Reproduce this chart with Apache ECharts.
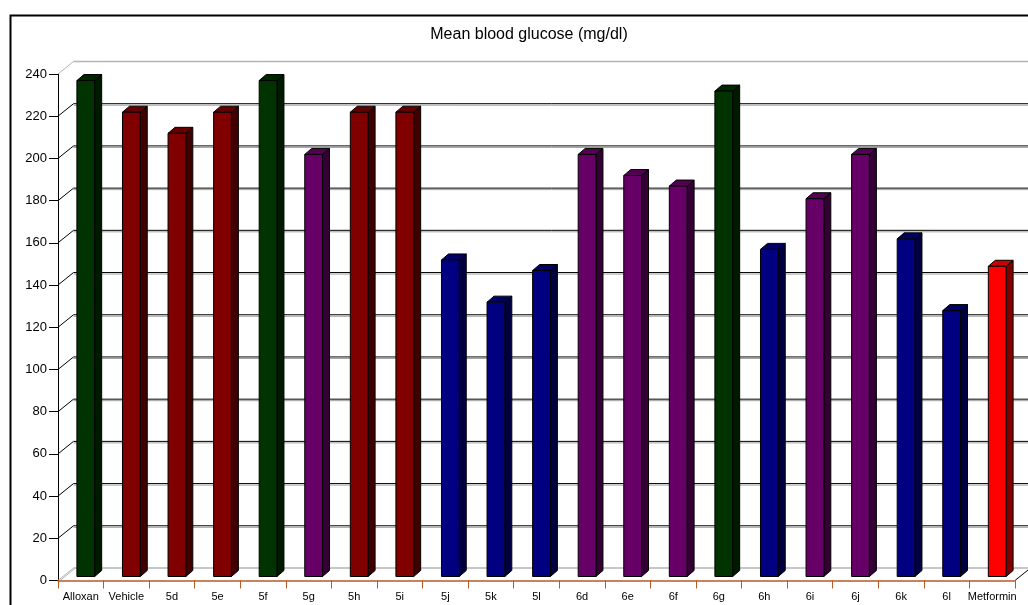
<!DOCTYPE html>
<html>
<head>
<meta charset="utf-8">
<script src="https://cdn.jsdelivr.net/npm/echarts@6/dist/echarts.min.js"></script>
<style>
  html, body { margin: 0; padding: 0; background: #fff; }
  #chart { width: 1028px; height: 605px; }
</style>
</head>
<body>
<div id="chart"></div>
<script>
var categories = ['Alloxan', 'Vehicle', '5d', '5e', '5f', '5g', '5h', '5i', '5j', '5k', '5l',
                  '6d', '6e', '6f', '6g', '6h', '6i', '6j', '6k', '6l', 'Metformin'];
var glucose = [235, 220, 210, 220, 235, 200, 220, 220, 150, 130, 145,
               200, 190, 185, 230, 155, 179, 200, 160, 126, 147];
var groups = ['green', 'red', 'red', 'red', 'green', 'purple', 'red', 'red', 'navy', 'navy', 'navy',
              'purple', 'purple', 'purple', 'green', 'navy', 'purple', 'purple', 'navy', 'navy', 'bright'];
var yTicks = [0, 20, 40, 60, 80, 100, 120, 140, 160, 180, 200, 220, 240];

// front / top / side shades
var palette = {
  green:  ['#003300', '#002600', '#001a00'],
  red:    ['#800000', '#660000', '#400000'],
  purple: ['#660066', '#520052', '#330033'],
  navy:   ['#000080', '#000066', '#000040'],
  bright: ['#ff0000', '#cc0000', '#800000']
};

var DX = 15.5, DY = -12.5;   // depth of the back wall
var FX = 5, FY = -4;         // bar front face offset
var BX = 7, BY = -6;         // bar depth

var chart = echarts.init(document.getElementById('chart'));

function wallItem(params, api) {
  var cs = params.coordSys;
  var v = api.value(1);
  var y = api.coord([0, v])[1];
  var x = cs.x, xr = cs.x + cs.width;
  var edge = (v === 0 || v === 240);
  var col = edge ? '#b4b4b4' : '#000';
  var kids = [
    { type: 'line', shape: { x1: x, y1: y, x2: x + DX, y2: y + DY }, style: { stroke: col, lineWidth: 1 } },
    { type: 'line', shape: { x1: x + DX, y1: y + DY, x2: xr + DX + 20, y2: y + DY }, style: { stroke: col, lineWidth: edge ? 1.5 : 1 } }
  ];
  if (!edge) {
    kids.push({ type: 'line', shape: { x1: x + DX, y1: y + DY + 1.5, x2: xr + DX + 20, y2: y + DY + 1.5 }, style: { stroke: '#a0a0a0', lineWidth: 1 } });
  }
  if (v === 0) {
    kids.push({ type: 'line', shape: { x1: x + 2, y1: y, x2: x + DX + 2, y2: y + DY }, style: { stroke: col, lineWidth: 1 } });
    kids.push({ type: 'line', shape: { x1: xr, y1: y, x2: xr + DX, y2: y + DY }, style: { stroke: '#000', lineWidth: 1 } });
  }
  return { type: 'group', children: kids };
}

function barItem(params, api) {
  var i = api.value(0);
  var c = palette[groups[params.dataIndex]];
  var base = api.coord([i, 0]);
  var top = api.coord([i, api.value(1)]);
  var w = api.size([1, 0])[0] * 0.39;
  var x0 = base[0] + FX - w / 2, x1 = x0 + w;
  var yb = base[1] + FY, yt = top[1] + FY;
  var st = { stroke: '#000', lineWidth: 1 };
  return {
    type: 'group',
    children: [
      { type: 'polygon', shape: { points: [[x1, yt], [x1 + BX, yt + BY], [x1 + BX, yb + BY], [x1, yb]] },
        style: Object.assign({ fill: c[2] }, st) },
      { type: 'polygon', shape: { points: [[x0, yt], [x0 + BX, yt + BY], [x1 + BX, yt + BY], [x1, yt]] },
        style: Object.assign({ fill: c[1] }, st) },
      { type: 'rect', shape: { x: x0, y: yt, width: w, height: yb - yt },
        style: Object.assign({ fill: c[0] }, st) }
    ]
  };
}

chart.setOption({
  animation: false,
  textStyle: { fontFamily: 'Liberation Sans, Arial, sans-serif' },
  title: {
    text: 'Mean blood glucose (mg/dl)',
    left: 524, top: 22, textAlign: 'center',
    textStyle: { fontSize: 16, fontWeight: 'normal', color: '#000', fontFamily: 'Liberation Sans, Arial, sans-serif' }
  },
  graphic: [
    { type: 'rect', left: 8, top: 13, shape: { width: 1100, height: 700 },
      style: { fill: 'none', stroke: '#000', lineWidth: 2 }, z: 0 }
  ],
  grid: { left: 58, right: 13, top: 74, bottom: 24.5 },
  xAxis: {
    type: 'category',
    data: categories,
    axisLine: { lineStyle: { color: '#b85a26', width: 1.5 } },
    axisTick: { show: true, length: 8, lineStyle: { color: '#b85a26' } },
    axisLabel: { color: '#000', fontSize: 11, margin: 11, interval: 0 },
    splitLine: { show: false },
    z: 5
  },
  yAxis: {
    type: 'value',
    min: 0, max: 240, interval: 20,
    axisLine: { show: true, lineStyle: { color: '#000', width: 1 } },
    axisTick: { show: true, length: 9, lineStyle: { color: '#000' } },
    axisLabel: { color: '#000', fontSize: 13, margin: 11 },
    splitLine: { show: false }
  },
  series: [
    {
      type: 'custom',
      clip: false,
      z: 1,
      renderItem: wallItem,
      encode: { x: 0, y: 1 },
      data: yTicks.map(function (v) { return [0, v]; })
    },
    {
      type: 'custom',
      clip: false,
      z: 3,
      renderItem: barItem,
      encode: { x: 0, y: 1 },
      data: glucose.map(function (v, i) { return [i, v]; })
    }
  ]
});
</script>
</body>
</html>
